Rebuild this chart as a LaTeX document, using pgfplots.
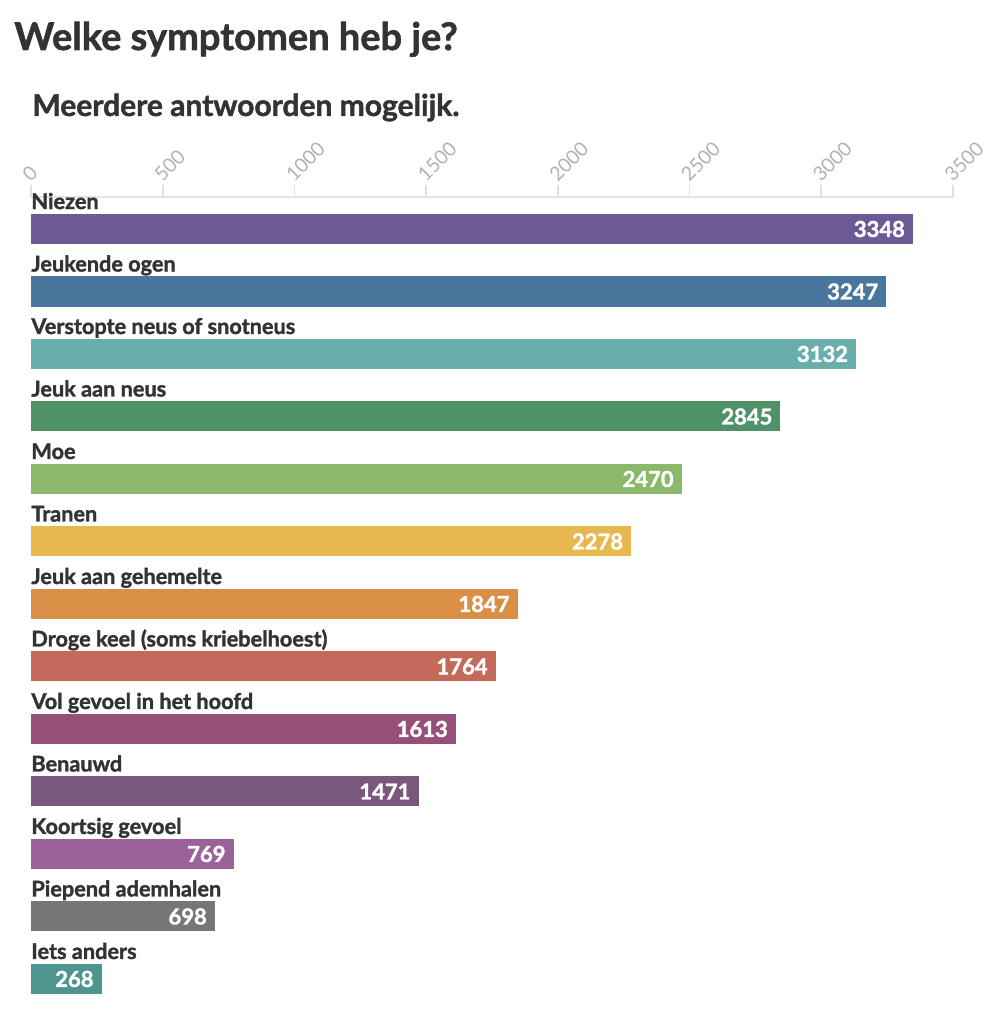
\documentclass[border=0pt]{standalone}
\usepackage{pgfplots}
\pgfplotsset{compat=1.18}
\usepackage{fontspec}
\setmainfont{Lato}[BoldFeatures={FakeBold=1.5}]
\definecolor{txt}{HTML}{333333}
\definecolor{c1}{HTML}{6C5A96}
\definecolor{c2}{HTML}{48769C}
\definecolor{c3}{HTML}{68AEAB}
\definecolor{c4}{HTML}{4F9268}
\definecolor{c5}{HTML}{8CB86A}
\definecolor{c6}{HTML}{E8B850}
\definecolor{c7}{HTML}{D98F46}
\definecolor{c8}{HTML}{C56A5A}
\definecolor{c9}{HTML}{964F78}
\definecolor{c10}{HTML}{7A577C}
\definecolor{c11}{HTML}{9B6299}
\definecolor{c12}{HTML}{767676}
\definecolor{c13}{HTML}{4E958F}
\tikzset{catlabel/.style={anchor=base west, yshift=10pt, inner sep=0pt, font=\bfseries\fontsize{10.85}{12}\selectfont, text=txt}}
\begin{document}
\begin{tikzpicture}
\begin{axis}[name=ax, scale only axis, width=461pt, height=406.6pt,
  xmin=0, xmax=3500, ymin=-0.512, ymax=12.5, y dir=reverse,
  xbar, bar width=15pt, bar shift=0pt,
  axis y line=none, axis x line=top,
  x axis line style={-, draw=black!10, line width=1pt},
  xtick={0,500,...,3500}, tick align=outside, major tick length=6pt,
  xtick style={draw=black!12, line width=0.8pt},
  xticklabel style={rotate=45, anchor=south west, text=black!30, font=\fontsize{9.8}{11}\selectfont, inner sep=0.5pt},
  /pgf/number format/1000 sep={}, /pgf/number format/assume math mode=true,
  point meta=x, nodes near coords,
  every node near coord/.append style={anchor=east, text=white, font=\bfseries\fontsize{11}{12}\selectfont, xshift=-0.5pt},
  clip=false]
\addplot[fill=c1, draw=none] coordinates {(3348,0)};
\addplot[fill=c2, draw=none] coordinates {(3247,1)};
\addplot[fill=c3, draw=none] coordinates {(3132,2)};
\addplot[fill=c4, draw=none] coordinates {(2845,3)};
\addplot[fill=c5, draw=none] coordinates {(2470,4)};
\addplot[fill=c6, draw=none] coordinates {(2278,5)};
\addplot[fill=c7, draw=none] coordinates {(1847,6)};
\addplot[fill=c8, draw=none] coordinates {(1764,7)};
\addplot[fill=c9, draw=none] coordinates {(1613,8)};
\addplot[fill=c10, draw=none] coordinates {(1471,9)};
\addplot[fill=c11, draw=none] coordinates {(769,10)};
\addplot[fill=c12, draw=none] coordinates {(698,11)};
\addplot[fill=c13, draw=none] coordinates {(268,12)};
\node[catlabel] at (axis cs:0,0) {Niezen};
\node[catlabel] at (axis cs:0,1) {Jeukende ogen};
\node[catlabel] at (axis cs:0,2) {Verstopte neus of snotneus};
\node[catlabel] at (axis cs:0,3) {Jeuk aan neus};
\node[catlabel] at (axis cs:0,4) {Moe};
\node[catlabel] at (axis cs:0,5) {Tranen};
\node[catlabel] at (axis cs:0,6) {Jeuk aan gehemelte};
\node[catlabel] at (axis cs:0,7) {Droge keel (soms kriebelhoest)};
\node[catlabel] at (axis cs:0,8) {Vol gevoel in het hoofd};
\node[catlabel] at (axis cs:0,9) {Benauwd};
\node[catlabel] at (axis cs:0,10) {Koortsig gevoel};
\node[catlabel] at (axis cs:0,11) {Piepend ademhalen};
\node[catlabel] at (axis cs:0,12) {Iets anders};
\end{axis}
\node[anchor=base west, inner sep=0pt, font=\bfseries\fontsize{19}{23}\selectfont, text=txt] at ([shift={(-8.5pt,73.5pt)}]ax.north west) {Welke symptomen heb je?};
\node[anchor=base west, inner sep=0pt, font=\bfseries\fontsize{15}{18}\selectfont, text=txt] at ([shift={(0.5pt,40.5pt)}]ax.north west) {Meerdere antwoorden mogelijk.};
\path ([shift={(-15.5pt,98.5pt)}]ax.north west) rectangle ([shift={(479pt,-413.5pt)}]ax.north west);
\end{tikzpicture}
\end{document}
